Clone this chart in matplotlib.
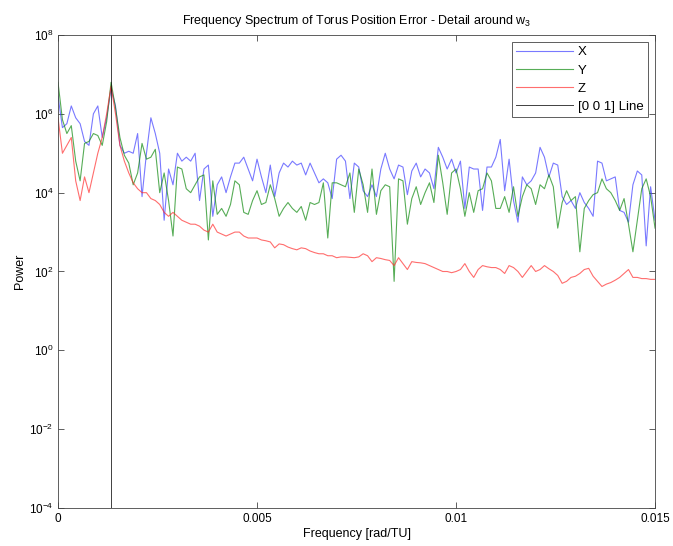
import numpy as np
import matplotlib
matplotlib.use("Agg")
import matplotlib.pyplot as plt

plt.rcParams["font.family"] = ["Liberation Sans", "DejaVu Sans"]
plt.rcParams["mathtext.fontset"] = "custom"
plt.rcParams["mathtext.rm"] = "Liberation Sans"
plt.rcParams["mathtext.it"] = "Liberation Sans"

# frequency bins of the spectrum
df = 0.015 / 135
n_bins = 136
w3 = 0.001333

# log10 of the power for each axis component
log_x = [
    6.45, 5.65, 5.75, 6.2, 5.9, 5.75, 5.3, 5.2, 6.0, 6.2,
    5.4, 5.9, 6.65, 6.2, 5.2, 5.0, 5.05, 5.0, 5.5, 3.9,
    5.0, 5.9, 5.5, 5.0, 3.3, 4.6, 4.2, 5.0, 4.8, 4.9,
    4.8, 5.0, 3.8, 4.6, 4.7, 3.4, 4.2, 4.4, 4.0, 4.4,
    4.75, 4.75, 4.9, 4.6, 4.3, 4.85, 4.4, 4.0, 4.7, 3.9,
    4.5, 4.75, 4.65, 4.8, 4.7, 4.75, 4.45, 4.75, 4.5, 4.25,
    4.35, 4.25, 3.85, 4.85, 4.95, 4.8, 3.85, 4.75, 4.65, 4.05,
    3.9, 4.2, 3.9, 4.6, 5.0, 4.6, 4.35, 4.7, 4.65, 3.95,
    4.55, 4.75, 4.4, 4.6, 4.5, 4.1, 5.15, 4.9, 4.6, 4.85,
    4.5, 4.8, 3.6, 4.65, 4.6, 4.6, 3.55, 4.65, 4.65, 4.9,
    5.35, 4.05, 4.85, 3.8, 3.25, 4.4, 4.2, 4.3, 4.5, 5.15,
    4.9, 4.4, 4.75, 4.7, 3.9, 3.7, 3.8, 3.6, 4.0, 3.75,
    3.6, 3.4, 4.8, 4.75, 4.3, 4.35, 4.4, 3.55, 3.5, 3.25,
    4.2, 4.55, 4.45, 2.65, 4.15, 3.3,
]
log_y = [
    6.8, 5.85, 5.5, 5.7, 4.8, 4.3, 5.25, 5.3, 5.5, 5.45,
    5.2, 5.8, 6.8, 6.15, 5.4, 4.95, 4.75, 4.2, 4.5, 5.25,
    4.85, 4.9, 5.1, 4.0, 4.5, 3.8, 2.9, 4.65, 4.6, 4.1,
    4.0, 4.2, 4.4, 4.45, 2.8, 4.3, 3.45, 3.6, 3.4, 3.7,
    4.3, 4.2, 3.5, 3.45, 3.8, 4.05, 3.7, 3.75, 4.2, 3.85,
    3.4, 3.6, 3.75, 3.6, 3.5, 3.65, 3.3, 3.75, 3.7, 3.75,
    4.25, 2.85, 4.25, 4.25, 4.2, 4.15, 4.5, 3.5, 4.6, 4.2,
    3.5, 4.6, 3.45, 4.05, 4.2, 4.15, 1.75, 4.35, 4.3, 3.2,
    3.85, 4.15, 3.7, 4.0, 4.25, 3.75, 4.95, 4.25, 3.45, 4.5,
    4.6, 4.1, 3.4, 4.0, 3.5, 4.05, 4.1, 4.5, 4.3, 3.6,
    3.6, 3.9, 3.5, 4.15, 3.4, 3.9, 4.2, 4.1, 3.7, 4.2,
    4.1, 4.45, 4.15, 3.1, 3.75, 4.05, 3.8, 3.9, 2.5, 3.6,
    3.8, 3.95, 4.0, 4.35, 4.1, 4.0, 3.8, 3.55, 3.85, 3.2,
    2.5, 3.3, 4.1, 4.35, 3.9, 3.1,
]
log_z = [
    5.9, 5.0, 5.2, 5.4, 4.3, 3.8, 4.4, 4.0, 4.5, 5.0,
    5.4, 6.0, 6.7, 6.0, 5.2, 4.8, 4.5, 4.25, 4.1, 4.0,
    4.0, 3.85, 3.8, 3.7, 3.5, 3.4, 3.5, 3.4, 3.3, 3.25,
    3.2, 3.2, 3.15, 3.05, 3.0, 3.2, 3.0, 2.95, 2.9, 2.95,
    3.0, 3.0, 2.9, 2.85, 2.85, 2.85, 2.8, 2.78, 2.75, 2.6,
    2.7, 2.68, 2.62, 2.58, 2.55, 2.6, 2.58, 2.52, 2.48, 2.45,
    2.45, 2.4, 2.4, 2.35, 2.37, 2.37, 2.36, 2.35, 2.37, 2.45,
    2.4, 2.25, 2.35, 2.33, 2.3, 2.28, 2.15, 2.35, 2.2, 2.05,
    2.25, 2.23, 2.22, 2.2, 2.15, 2.1, 2.05, 2.0, 2.0, 1.97,
    2.0, 2.05, 2.2, 2.0, 1.85, 2.05, 2.15, 2.12, 2.1, 2.1,
    2.05, 1.95, 2.15, 2.1, 2.0, 1.85, 2.0, 2.15, 2.0, 2.05,
    2.15, 2.07, 2.0, 1.9, 1.7, 1.75, 1.85, 1.88, 1.95, 2.05,
    2.08, 1.88, 1.75, 1.62, 1.68, 1.72, 1.78, 1.85, 1.95, 2.05,
    1.85, 1.85, 1.82, 1.82, 1.8, 1.8,
]

freq = np.arange(n_bins) * df
px = 10.0 ** np.array(log_x)
py = 10.0 ** np.array(log_y)
pz = 10.0 ** np.array(log_z)

fig = plt.figure(figsize=(6.73, 5.46), dpi=100)
ax = fig.add_axes([0.0862, 0.0696, 0.8871, 0.8663])

ax.semilogy(freq, px, color="#4040ff", lw=0.8, alpha=0.7, label="X")
ax.semilogy(freq, py, color="#108a10", lw=0.8, alpha=0.7, label="Y")
ax.semilogy(freq, pz, color="#ff3030", lw=0.8, alpha=0.7, label="Z")
ax.axvline(w3, color="black", lw=0.7, alpha=0.75, label="[0 0 1] Line")

ax.set_xlim(0, 0.015)
ax.set_ylim(1e-4, 1e8)
ax.set_xticks([0, 0.005, 0.01, 0.015])
ax.set_xticklabels(["0", "0.005", "0.01", "0.015"])
ax.set_yticks([1e-4, 1e-2, 1e0, 1e2, 1e4, 1e6, 1e8])
ax.yaxis.set_minor_locator(matplotlib.ticker.NullLocator())
ax.tick_params(direction="in", top=True, right=True, labelsize=8.5, length=4,
               width=0.6, color="#444444")
for s in ax.spines.values():
    s.set_linewidth(0.6)
    s.set_color("#444444")

ax.set_title("Frequency Spectrum of Torus Position Error - Detail around w$_3$",
             fontsize=9, pad=8)
ax.set_xlabel("Frequency [rad/TU]", fontsize=9, labelpad=2)
ax.set_ylabel("Power", fontsize=9, labelpad=2)

leg = ax.legend(loc="upper right", fontsize=9.5, fancybox=False, framealpha=1,
                edgecolor="#444444", borderaxespad=0.55, handlelength=4.3,
                labelspacing=0.45, borderpad=0.3, handletextpad=0.4)
leg.get_frame().set_linewidth(0.6)

fig.savefig("out.png", dpi=100)
